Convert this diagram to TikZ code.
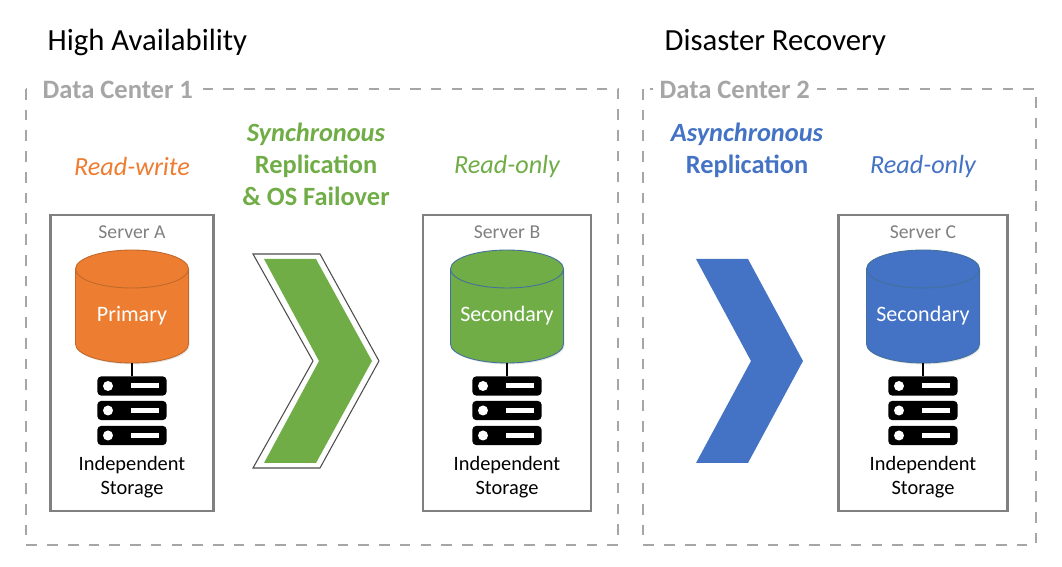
\documentclass[tikz,border=0pt]{standalone}
\usepackage{fontspec}
\setmainfont{Carlito}
\usetikzlibrary{positioning,shadows}
\definecolor{myorange}{HTML}{ED7D31}
\definecolor{mygreen}{HTML}{70AD47}
\definecolor{myblue}{HTML}{4472C4}
\definecolor{mygray}{HTML}{A6A6A6}
\definecolor{myedge}{HTML}{41719C}
\definecolor{myedgeor}{HTML}{C0692D}
\tikzset{
  dcbox/.style={draw=mygray,line width=0.55pt,dash pattern=on 3pt off 2.9pt},
  dclabel/.style={fill=white,text=mygray,font=\fontsize{7.55}{9}\selectfont\bfseries,inner xsep=2pt,inner ysep=1pt},
  headline/.style={font=\fontsize{8.74}{10}\selectfont},
  srvbox/.style={draw=gray,line width=0.6pt},
  srvname/.style={text=gray,font=\fontsize{5.6}{6.5}\selectfont},
  disk/.style={line width=0.25pt,drop shadow={opacity=0.2,shadow xshift=0.3pt,shadow yshift=-0.4pt}},
  disktext/.style={text=white,font=\fontsize{6.27}{7}\selectfont},
  rack/.style={fill=black,rounded corners=1pt,minimum width=0.69cm,minimum height=0.19cm,inner sep=0pt},
  storetext/.style={align=center,font=\fontsize{5.8}{6.8}\selectfont},
  modetext/.style={font=\fontsize{7.45}{9}\selectfont\itshape},
  repltext/.style={align=center,font=\fontsize{7.5}{9.07}\selectfont\bfseries},
}

\begin{document}
\begin{tikzpicture}[x=0.01cm,y=-0.01cm]

\useasboundingbox (0,0) rectangle (1062,567);
% titles
\node [headline,anchor=base west,inner sep=0pt] (titleha) at (47,51) {High Availability};
\node [headline,anchor=base west,inner sep=0pt] (titledr) at (664,51) {Disaster Recovery};
% data centers
\draw [dcbox] (26,89) rectangle (618,545);
\draw [dcbox] (643,89) rectangle (1036,545);
\node [dclabel,anchor=west] (dcone) at (35,90) {Data Center 1\hspace{2.5pt}};
\node [dclabel,anchor=west] (dctwo) at (652,90) {Data Center 2\hspace{2.5pt}};
% servers
\foreach \srv/\cx/\boxw/\col/\edgecol/\disktxt in {A/132/163/myorange/myedgeor/Primary,B/507/168/mygreen/myedge/Secondary,C/923/169/myblue/myedge/Secondary}{
  \draw [srvbox] (\cx-\boxw/2,215) rectangle (\cx+\boxw/2,511);
  \node [srvname] (name\srv) at (\cx,232.5) {Server \srv};
  % cylinder
  \draw [disk,draw=\edgecol,fill=\col] (\cx-56.5,269) .. controls (\cx-56.5,258.5) and (\cx-31.2,250) .. (\cx,250)
    .. controls (\cx+31.2,250) and (\cx+56.5,258.5) .. (\cx+56.5,269) -- (\cx+56.5,344)
    .. controls (\cx+56.5,354.5) and (\cx+31.2,363) .. (\cx,363)
    .. controls (\cx-31.2,363) and (\cx-56.5,354.5) .. (\cx-56.5,344) -- cycle;
  \draw [draw=\edgecol,line width=0.25pt] (\cx-56.5,269) .. controls (\cx-56.5,279.5) and (\cx-31.2,288) .. (\cx,288)
    .. controls (\cx+31.2,288) and (\cx+56.5,279.5) .. (\cx+56.5,269);
  \coordinate (disk\srv) at (\cx,363);
  \node [disktext] (label\srv) at (\cx,316) {\disktxt};
  \foreach \i/\ry in {1/386,2/410.5,3/435.5}{
    \node [rack] (rack\srv\i) at (\cx,\ry) {};
    \fill [white] (\cx-24,\ry) circle (5);
    \fill [white] (\cx-1,\ry-2.5) rectangle (\cx+27,\ry+2.5);
  }
  \draw [line width=0.85pt] (disk\srv) -- (rack\srv1.north);
  \node [storetext] (store\srv) at (\cx,477.5) {Independent\\Storage};
}
% access modes
\node [modetext,text=myorange] (modeA) at (132,167) {Read-write};
\node [modetext,text=mygreen] (modeB) at (507,167) {Read-only};
\node [modetext,text=myblue] (modeC) at (923,167) {Read-only};
% replication
\node [repltext,text=mygreen] (syncrep) at (316,164) {\textit{Synchronous}\\Replication\\\&~OS Failover};
\node [repltext,text=myblue,anchor=north] (asyncrep) at (747,111) {\textit{Asynchronous}\\Replication};
% chevrons
\draw [black!70,line width=0.3pt] (253,254) -- (320,254) -- (379,361) -- (320,468) -- (253,468) -- (313,361) -- cycle;
\fill [mygreen] (264,259) -- (316,259) -- (372,361) -- (316,463) -- (264,463) -- (319,361) -- cycle;
\fill [myblue] (696,259) -- (748,259) -- (803,361) -- (748,463) -- (696,463) -- (751,361) -- cycle;

\end{tikzpicture}
\end{document}
